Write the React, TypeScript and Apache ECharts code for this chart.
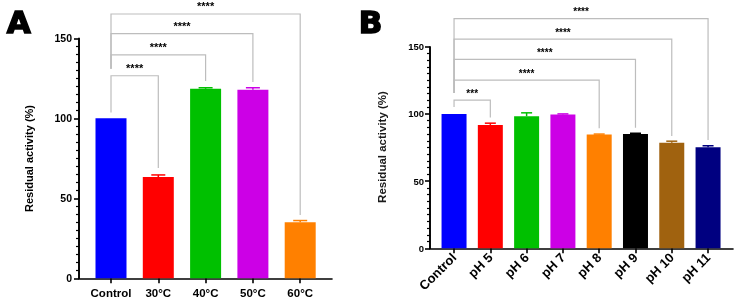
import React, { useEffect, useRef } from "react";
import * as echarts from "echarts";

const tempCategories = ["Control", "30°C", "40°C", "50°C", "60°C"];
const tempValues = [100, 63.3, 118.4, 117.8, 35.1];
const tempErrors = [0, 1.3, 0.7, 1.3, 1.0];
const tempColors = ["#0000FF", "#FF0000", "#00C000", "#CC00E6", "#FF8000"];
// [target index, bracket height, left leg end, right leg end, label]
const tempBrackets: [number, number, number, number, string][] = [
  [1, 126.6, 103.7, 69, "****"],
  [2, 139.6, 131, 123.3, "****"],
  [3, 152.9, 131, 122.7, "****"],
  [4, 165.2, 131, 39.6, "****"],
];

const phCategories = ["Control", "pH 5", "pH 6", "pH 7", "pH 8", "pH 9", "pH 10", "pH 11"];
const phValues = [100, 91.8, 98.2, 99.5, 84.6, 85.1, 78.5, 75.2];
const phErrors = [0, 1.3, 2.6, 0.5, 0.4, 0.5, 1.2, 1.1];
const phColors = ["#0000FF", "#FF0000", "#00C000", "#CC00E6", "#FF8000", "#000000", "#A0620F", "#000080"];
const phBrackets: [number, number, number, number, string][] = [
  [1, 110.3, 105.1, 97.4, "***"],
  [4, 125.2, 115.5, 89.3, "****"],
  [5, 140.6, 115.5, 89.7, "****"],
  [6, 155.7, 115.5, 83.6, "****"],
  [7, 170.9, 115.5, 80.6, "****"],
];

const yMin = 0;
const yMax = 150;
const yInterval = 50;
const yTitle = "Residual activity (%)";

const FONT = '"Liberation Sans", Arial, sans-serif';

function frameX(grid: number) {
  return {
    type: "value",
    gridIndex: grid,
    min: 0,
    max: 1,
    axisLine: { show: true, onZero: false, lineStyle: { color: "#000", width: 1.6 } },
    axisTick: { show: false },
    axisLabel: { show: false },
    splitLine: { show: false },
  };
}

function frameY(grid: number, fontSize: number, margin: number) {
  return {
    type: "value",
    gridIndex: grid,
    position: "left",
    min: yMin,
    max: yMax,
    interval: yInterval,
    axisLine: { show: true, onZero: false, lineStyle: { color: "#000", width: 1.6 } },
    axisTick: { show: true, length: 5, lineStyle: { color: "#000", width: 1.6 } },
    minorTick: { show: true, splitNumber: 10, length: 3, lineStyle: { color: "#000", width: 1.2 } },
    axisLabel: { fontSize, fontWeight: "bold", fontFamily: FONT, color: "#000", margin },
    splitLine: { show: false },
    minorSplitLine: { show: false },
  };
}

function catX(grid: number, cats: string[], fontSize: number, rotate: number, margin: number) {
  return {
    type: "category",
    gridIndex: grid,
    data: cats,
    boundaryGap: true,
    axisLine: { show: false, onZero: false },
    axisTick: { show: true, alignWithLabel: true, length: 5, lineStyle: { color: "#000", width: 1.6 } },
    axisLabel: { fontSize, fontWeight: "bold", fontFamily: FONT, color: "#000", rotate, margin, interval: 0 },
    splitLine: { show: false },
  };
}

function hiddenY(grid: number) {
  return { type: "value", gridIndex: grid, min: yMin, max: yMax, interval: yInterval, show: false, splitLine: { show: false } };
}

function barSeries(axisIdx: number, values: number[], colors: string[], width: number) {
  return {
    type: "bar",
    xAxisIndex: axisIdx,
    yAxisIndex: axisIdx,
    barWidth: width,
    data: values.map((v, i) => ({ value: v, itemStyle: { color: colors[i] } })),
  };
}

function errorSeries(axisIdx: number, values: number[], errors: number[], colors: string[], capHalf: number) {
  return {
    type: "custom",
    xAxisIndex: axisIdx,
    yAxisIndex: axisIdx,
    clip: false,
    z: 3,
    encode: { x: 0, y: [1, 2] },
    data: values.map((v, i) => [i, v, v + errors[i]]),
    renderItem: (params: any, api: any) => {
      const i = api.value(0);
      const lo = api.coord([i, api.value(1)]);
      const hi = api.coord([i, api.value(2)]);
      if (Math.abs(lo[1] - hi[1]) < 0.3) return { type: "group", children: [] };
      const color = colors[params.dataIndex];
      return {
        type: "group",
        children: [
          { type: "line", shape: { x1: lo[0], y1: lo[1], x2: hi[0], y2: hi[1] }, style: { stroke: color, lineWidth: 1.5 } },
          { type: "line", shape: { x1: hi[0] - capHalf, y1: hi[1], x2: hi[0] + capHalf, y2: hi[1] }, style: { stroke: color, lineWidth: 1.5 } },
        ],
      };
    },
  };
}

function bracketSeries(axisIdx: number, brackets: [number, number, number, number, string][], fontSize: number) {
  return {
    type: "custom",
    xAxisIndex: axisIdx,
    yAxisIndex: axisIdx,
    clip: false,
    z: 3,
    encode: { x: [0, 1], y: [2, 3, 4] },
    data: brackets.map((b) => [0, b[0], b[1], b[2], b[3]]),
    renderItem: (params: any, api: any) => {
      const x1 = api.value(0);
      const x2 = api.value(1);
      const h = api.value(2);
      const l = api.value(3);
      const r = api.value(4);
      const pL = api.coord([x1, l]);
      const pLH = api.coord([x1, h]);
      const pRH = api.coord([x2, h]);
      const pR = api.coord([x2, r]);
      return {
        type: "group",
        children: [
          {
            type: "polyline",
            shape: { points: [pL, pLH, pRH, pR] },
            style: { stroke: "#BDBDBD", lineWidth: 1.2, fill: "none" },
          },
          {
            type: "text",
            x: (pLH[0] + pRH[0]) / 2,
            y: pLH[1] - 2,
            style: {
              text: brackets[params.dataIndex][4],
              fontSize,
              fontWeight: "bold",
              fontFamily: FONT,
              fill: "#000",
              align: "center",
              verticalAlign: "bottom",
            },
          },
        ],
      };
    },
  };
}

export default function App() {
  const ref = useRef<HTMLDivElement>(null);
  useEffect(() => {
    if (!ref.current) return;
    const chart = echarts.init(ref.current, null, { renderer: "svg" });
    chart.setOption({
      animation: false,
      grid: [
        { left: 79, top: 38.3, width: 253, height: 240 },
        { left: 87.35, top: 38.3, width: 236.5, height: 240 },
        { left: 430, top: 46.7, width: 303, height: 201.6 },
        { left: 435.9, top: 46.7, width: 290.3, height: 201.6 },
      ],
      xAxis: [
        frameX(0),
        catX(1, tempCategories, 11.5, 0, 9),
        frameX(2),
        catX(3, phCategories, 13, 45, 7),
      ],
      yAxis: [frameY(0, 10.5, 7), hiddenY(1), frameY(2, 9.5, 6), hiddenY(3)],
      series: [
        barSeries(1, tempValues, tempColors, 31),
        errorSeries(1, tempValues, tempErrors, tempColors, 7),
        bracketSeries(1, tempBrackets, 11),
        barSeries(3, phValues, phColors, 25),
        errorSeries(3, phValues, phErrors, phColors, 5.5),
        bracketSeries(3, phBrackets, 10),
      ],
    });

    // y axis lines, positioned through the frame grids' own scales
    const axisLines = [0, 2].map((g) => {
      const a = chart.convertToPixel({ gridIndex: g } as any, [0, yMin]) as number[];
      const b = chart.convertToPixel({ gridIndex: g } as any, [0, yMax]) as number[];
      return {
        type: "line",
        z: 100,
        shape: { x1: a[0], y1: a[1] + 0.8, x2: b[0], y2: b[1] },
        style: { stroke: "#000", lineWidth: 1.6 },
      };
    });

    chart.setOption({
      graphic: [
        ...axisLines,
        {
          type: "text",
          left: 6,
          top: 6,
          style: { text: "A", fontSize: 31, fontWeight: "bold", fontFamily: '"DejaVu Sans"', fill: "#000", stroke: "#000", lineWidth: 1.5 },
        },
        {
          type: "text",
          left: 358,
          top: 6,
          style: { text: "B", fontSize: 31, fontWeight: "bold", fontFamily: '"DejaVu Sans"', fill: "#000", stroke: "#000", lineWidth: 1.5 },
        },
        {
          type: "text",
          x: 29,
          y: 158.5,
          rotation: Math.PI / 2,
          style: { text: yTitle, fontSize: 11, fontWeight: "bold", fontFamily: FONT, fill: "#000", align: "center", verticalAlign: "middle" },
        },
        {
          type: "text",
          x: 382,
          y: 147,
          rotation: Math.PI / 2,
          style: { text: yTitle, fontSize: 11.5, fontWeight: "bold", fontFamily: FONT, fill: "#1a1a1a", align: "center", verticalAlign: "middle" },
        },
      ],
    });
    return () => chart.dispose();
  }, []);
  return <div ref={ref} style={{ position: "fixed", left: 0, top: 0, width: 740, height: 303 }} />;
}
